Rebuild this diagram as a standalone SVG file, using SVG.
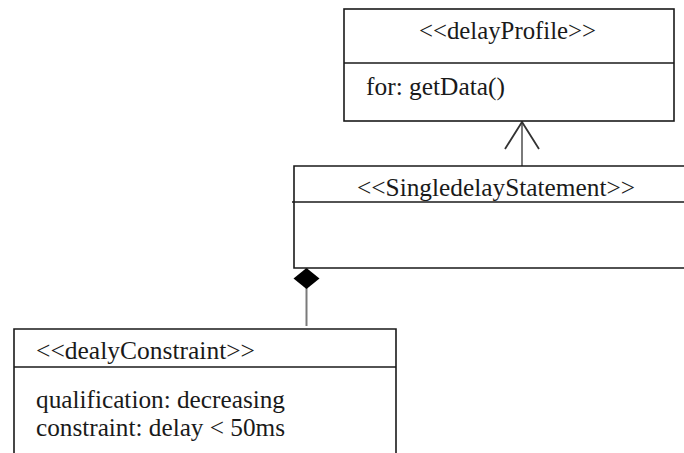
<svg xmlns="http://www.w3.org/2000/svg" width="684" height="453" viewBox="0 0 684 453">
<style>
.box{fill:#fff;stroke:#1a1a1a;stroke-width:1.6}
.div{stroke:#1a1a1a;stroke-width:1.6}
.t{font-family:"Liberation Serif","Times New Roman",serif;font-size:25px;fill:#1a1a1a}
.conn{stroke:#7a7a7a;stroke-width:2;fill:none}
</style>
<defs>
<marker id="open" markerUnits="userSpaceOnUse" viewBox="-30 -20 32 40" refX="0" refY="0" markerWidth="32" markerHeight="40" orient="auto">
<path d="M-27,-17 L0,0 L-27,17" fill="none" stroke="#333" stroke-width="1.8"/>
</marker>
<marker id="diamond" markerUnits="userSpaceOnUse" viewBox="-1 -15 24 30" refX="0" refY="0" markerWidth="24" markerHeight="30" orient="auto">
<path d="M0,0 L10.5,-13 L21,0 L10.5,13 Z" fill="#000"/>
</marker>
</defs>
<rect width="684" height="453" fill="#fff"/>
<g id="connectors">
<line class="conn" x1="522" y1="166" x2="522" y2="122" marker-end="url(#open)"/>
<line class="conn" x1="306.5" y1="268" x2="306.5" y2="326" marker-start="url(#diamond)"/>
</g>
<g id="delayProfile">
<rect class="box" x="344" y="9" width="330" height="112"/>
<line class="div" x1="344" y1="63" x2="674" y2="63"/>
<text class="t" x="419" y="39" textLength="177" lengthAdjust="spacingAndGlyphs">&lt;&lt;delayProfile&gt;&gt;</text>
<text class="t" x="366" y="95" textLength="139" lengthAdjust="spacingAndGlyphs">for: getData()</text>
</g>
<g id="SingledelayStatement">
<path class="box" d="M690,166 L294,166 L294,268 L690,268"/>
<line class="div" x1="292" y1="202" x2="690" y2="202"/>
<text class="t" x="357" y="196" textLength="278" lengthAdjust="spacingAndGlyphs">&lt;&lt;SingledelayStatement&gt;&gt;</text>
</g>
<g id="dealyConstraint">
<path class="box" d="M14,460 L14,329 L396,329 L396,460"/>
<line class="div" x1="14" y1="367" x2="396" y2="367"/>
<text class="t" x="36" y="359" textLength="219" lengthAdjust="spacingAndGlyphs">&lt;&lt;dealyConstraint&gt;&gt;</text>
<text class="t" x="36" y="408" textLength="249" lengthAdjust="spacingAndGlyphs">qualification: decreasing</text>
<text class="t" x="36" y="436" textLength="249" lengthAdjust="spacingAndGlyphs">constraint: delay &lt; 50ms</text>
</g>
</svg>
